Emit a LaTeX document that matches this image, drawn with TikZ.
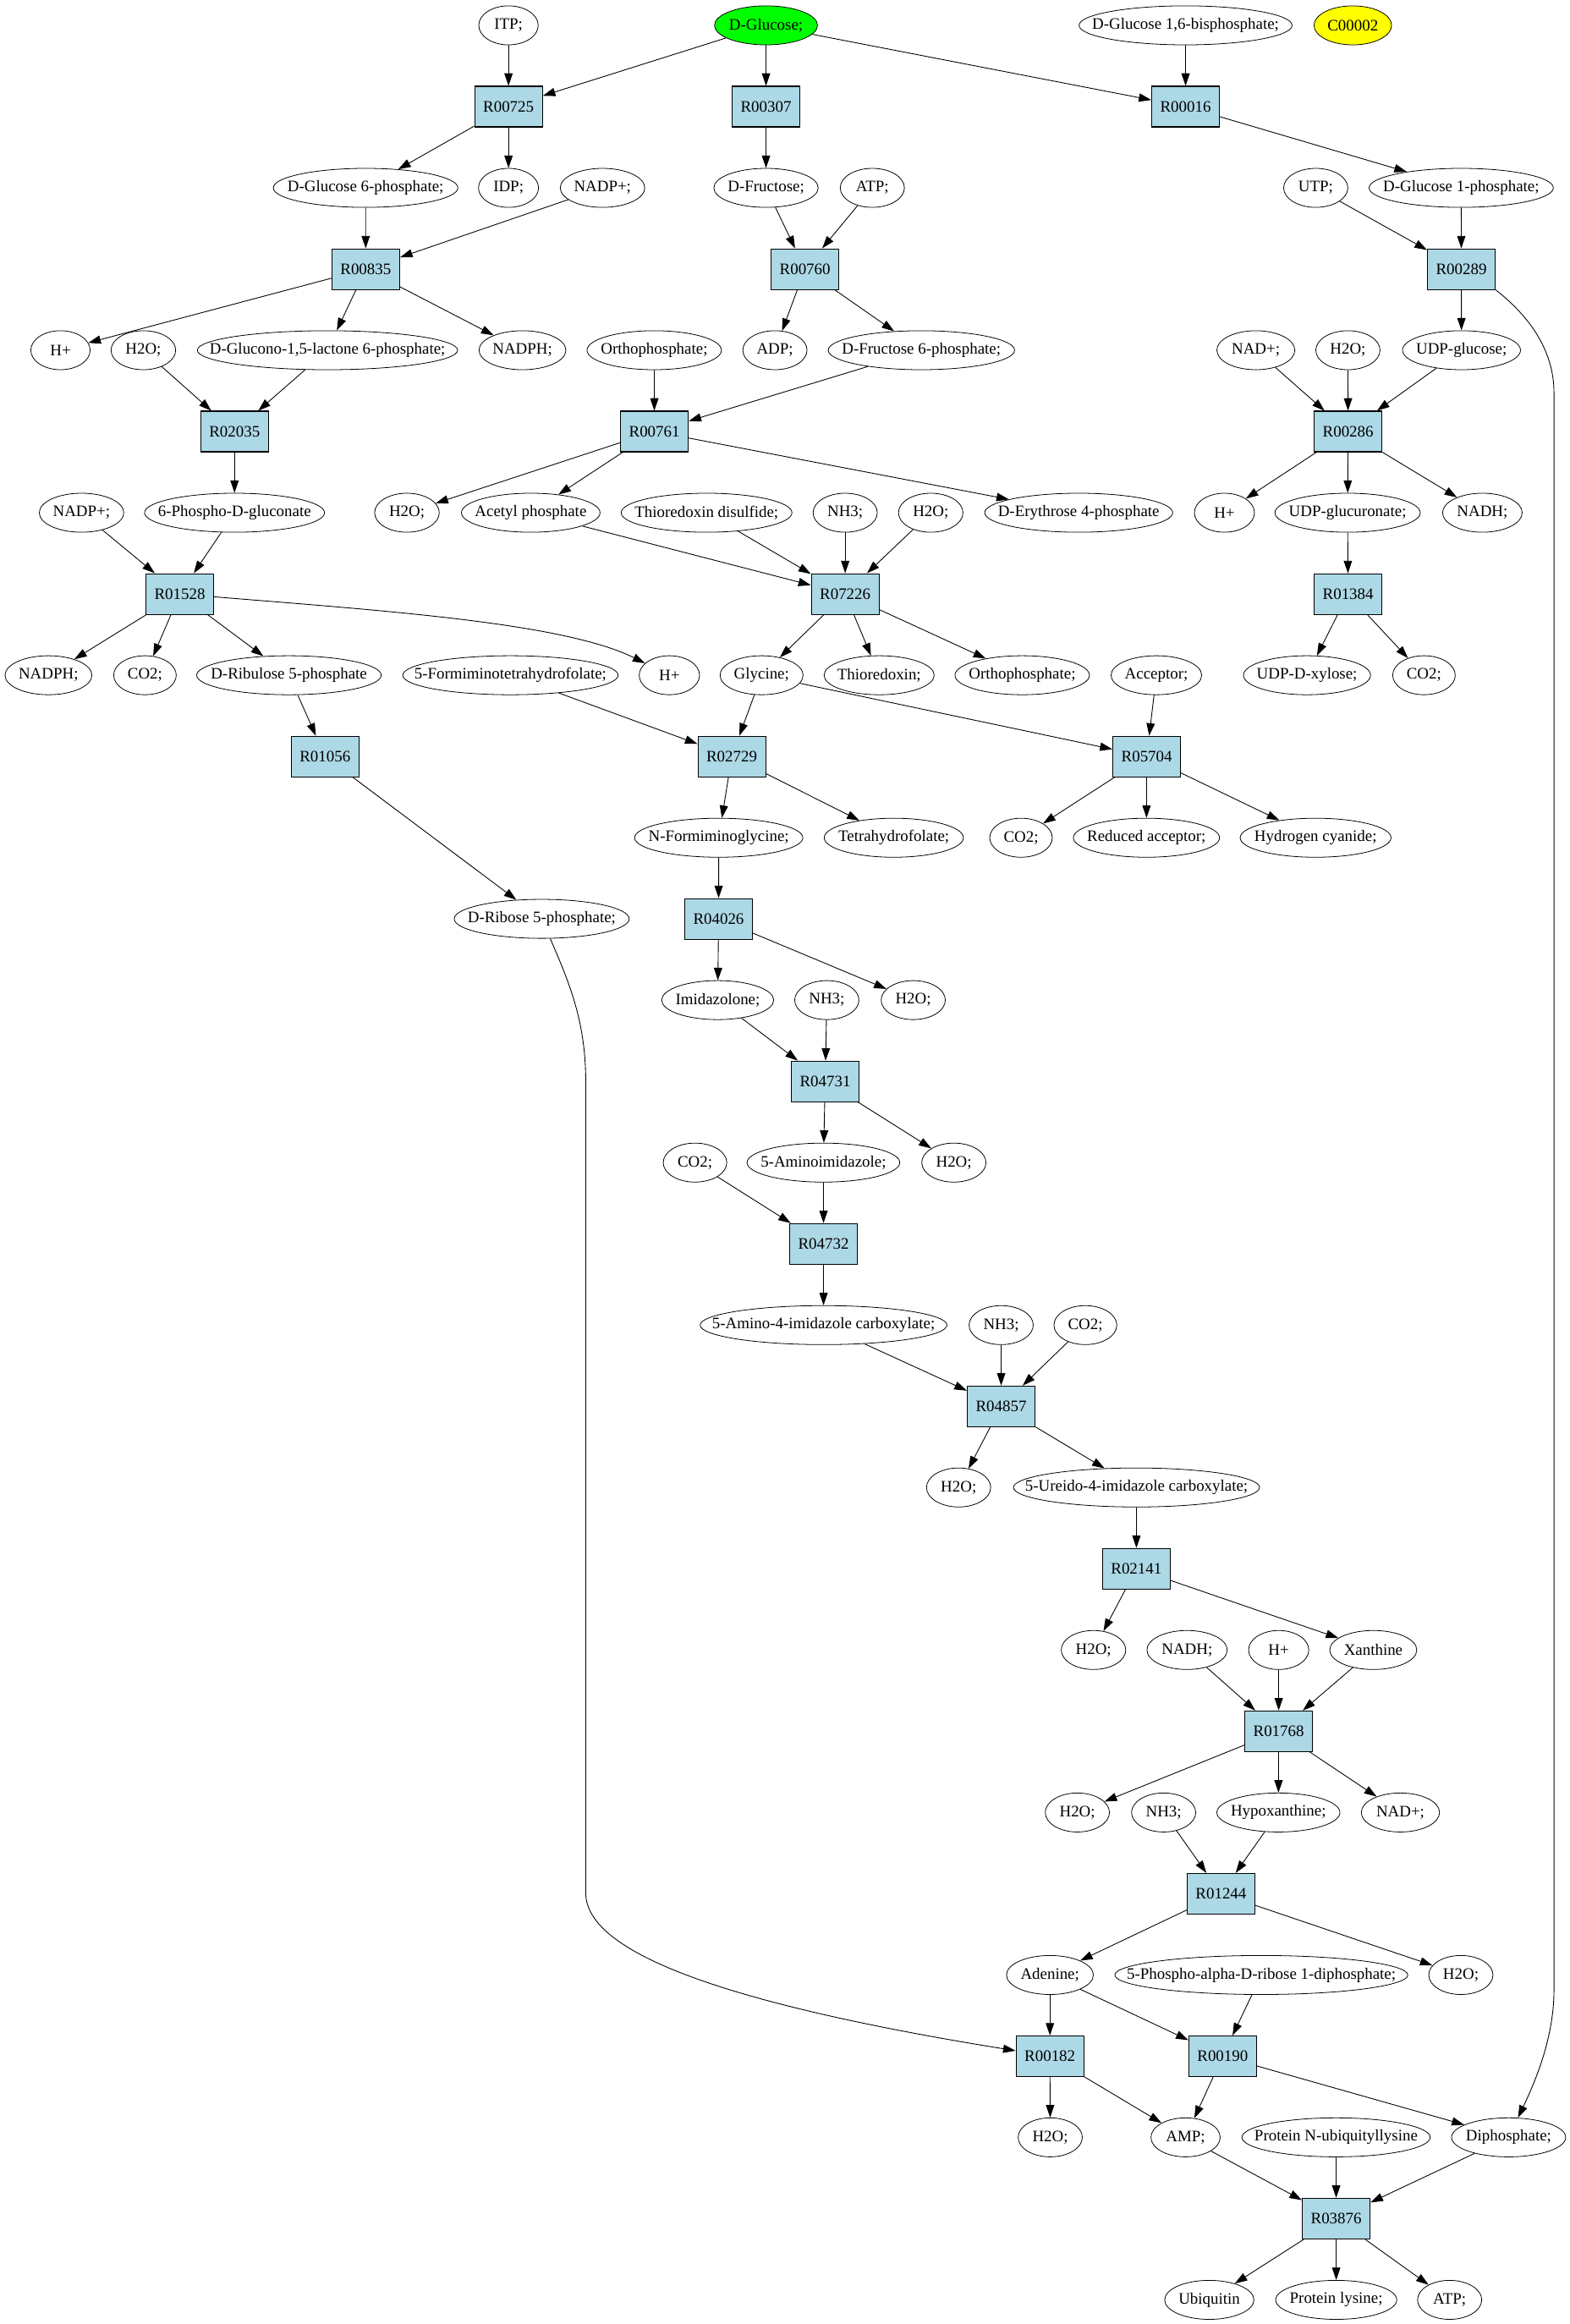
\documentclass[tikz,border=0pt]{standalone}
\usepackage{fontspec}
\setmainfont{Liberation Serif}
\usetikzlibrary{shapes.geometric,arrows.meta}
\definecolor{lightblue}{RGB}{173,216,230}
\definecolor{glucgreen}{RGB}{0,255,0}
\definecolor{cyellow}{RGB}{255,255,0}
\newcommand\zw[1]{\makebox[0pt]{#1}}
\begin{document}
\begin{tikzpicture}[x=1pt,y=-1pt,font=\fontsize{10.8}{12}\selectfont,
  met/.style={ellipse,draw,line width=0.45pt,inner sep=0pt,minimum height=26.3pt},
  rxn/.style={rectangle,draw,fill=lightblue,line width=0.6pt,inner sep=0pt,minimum width=45.7pt,minimum height=27.4pt},
  conn/.style={-{Triangle[length=8.4pt,width=5.6pt]},line width=0.5pt}]
\useasboundingbox (0,0) rectangle (1059,1567.4);
% reactions
\node[rxn] (r00725) at (343,71.9) {R00725};
\node[rxn] (r00307) at (516.7,71.9) {R00307};
\node[rxn] (r00016) at (799.7,71.9) {R00016};
\node[rxn] (r00835) at (246.7,181.5) {R00835};
\node[rxn] (r00760) at (543,181.5) {R00760};
\node[rxn] (r00289) at (985.7,181.5) {R00289};
\node[rxn] (r02035) at (158.2,291) {R02035};
\node[rxn] (r00761) at (441.4,291) {R00761};
\node[rxn] (r00286) at (909.3,291) {R00286};
\node[rxn] (r01528) at (121.3,400.6) {R01528};
\node[rxn] (r07226) at (570.1,400.6) {R07226};
\node[rxn] (r01384) at (909.3,400.6) {R01384};
\node[rxn] (r01056) at (219.3,510.2) {R01056};
\node[rxn] (r02729) at (493.6,510.2) {R02729};
\node[rxn] (r05704) at (773.5,510.2) {R05704};
\node[rxn] (r04026) at (484.7,619.7) {R04026};
\node[rxn] (r04731) at (556.6,729.3) {R04731};
\node[rxn] (r04732) at (555.5,838.9) {R04732};
\node[rxn] (r04857) at (675.3,948.5) {R04857};
\node[rxn] (r02141) at (766.5,1058) {R02141};
\node[rxn] (r01768) at (862.5,1167.6) {R01768};
\node[rxn] (r01244) at (823.6,1277.2) {R01244};
\node[rxn] (r00182) at (708.2,1386.8) {R00182};
\node[rxn] (r00190) at (824.7,1386.8) {R00190};
\node[rxn] (r03876) at (901.3,1496.3) {R03876};
% row 0
\node[met,minimum width=40.1pt] (itp) at (343,17.1) {\zw{ITP;}};
\node[met,minimum width=69.5pt,fill=glucgreen] (glc) at (516.7,17.1) {\zw{D-Glucose;}};
\node[met,minimum width=143.7pt] (g16bp) at (799.7,17.1) {\zw{D-Glucose 1,6-bisphosphate;}};
\node[met,minimum width=52.3pt,fill=cyellow] (c2) at (912.5,17.1) {\zw{C00002}};
% row 2
\node[met,minimum width=124.5pt] (g6p) at (246.6,126.7) {\zw{D-Glucose 6-phosphate;}};
\node[met,minimum width=40.5pt] (idp) at (343,126.7) {\zw{IDP;}};
\node[met,minimum width=57pt] (nadp1) at (406.4,126.7) {\zw{NADP+;}};
\node[met,minimum width=70.4pt] (fru) at (516.7,126.7) {\zw{D-Fructose;}};
\node[met,minimum width=43.3pt] (atp1) at (588.4,126.7) {\zw{ATP;}};
\node[met,minimum width=43.3pt] (utp) at (887.5,126.7) {\zw{UTP;}};
\node[met,minimum width=124.3pt] (g1p) at (985.6,126.7) {\zw{D-Glucose 1-phosphate;}};
% row 4
\node[met,minimum width=40pt] (hp1) at (40.8,236.2) {\zw{H+}};
\node[met,minimum width=43.6pt] (h2o1) at (96.7,236.2) {\zw{H2O;}};
\node[met,minimum width=175.6pt] (gl15) at (220.9,236.2) {\zw{D-Glucono-1,5-lactone 6-phosphate;}};
\node[met,minimum width=58.6pt] (nadph1) at (352.4,236.2) {\zw{NADPH;}};
\node[met,minimum width=90.7pt] (orth1) at (441.3,236.2) {\zw{Orthophosphate;}};
\node[met,minimum width=43.3pt] (adp) at (522.7,236.2) {\zw{ADP;}};
\node[met,minimum width=125.7pt] (f6p) at (621.5,236.2) {\zw{D-Fructose 6-phosphate;}};
\node[met,minimum width=52.6pt] (nadplus1) at (847.1,236.2) {\zw{NAD+;}};
\node[met,minimum width=43.3pt] (h2o2) at (909.2,236.2) {\zw{H2O;}};
\node[met,minimum width=79.6pt] (udpg) at (985.8,236.2) {\zw{UDP-glucose;}};
% row 6
\node[met,minimum width=57pt] (nadp2) at (55,345.8) {\zw{NADP+;}};
\node[met,minimum width=121.4pt] (pg6) at (158.2,345.8) {\zw{6-Phospho-D-gluconate}};
\node[met,minimum width=43.6pt] (h2o3) at (274.5,345.8) {\zw{H2O;}};
\node[met,minimum width=93.5pt] (acp) at (358,345.8) {\zw{Acetyl phosphate}};
\node[met,minimum width=115.2pt] (tdis) at (476.6,345.8) {\zw{Thioredoxin disulfide;}};
\node[met,minimum width=43.3pt] (nh31) at (570.1,345.8) {\zw{NH3;}};
\node[met,minimum width=43.5pt] (h2o4) at (627.8,345.8) {\zw{H2O;}};
\node[met,minimum width=126.8pt] (e4p) at (727.6,345.8) {\zw{D-Erythrose 4-phosphate}};
\node[met,minimum width=40.5pt] (hp2) at (825.9,345.8) {\zw{H+}};
\node[met,minimum width=98pt] (udpgu) at (909,345.8) {\zw{UDP-glucuronate;}};
\node[met,minimum width=53.7pt] (nadh1) at (999.9,345.8) {\zw{NADH;}};
% row 8
\node[met,minimum width=58.6pt] (nadph2) at (32.7,455.4) {\zw{NADPH;}};
\node[met,minimum width=42.2pt] (co21) at (97.8,455.4) {\zw{CO2;}};
\node[met,minimum width=124.5pt] (ru5p) at (194.9,455.4) {\zw{D-Ribulose 5-phosphate}};
\node[met,minimum width=145.3pt] (fthf) at (344.3,455.4) {\zw{5-Formiminotetrahydrofolate;}};
\node[met,minimum width=40.7pt] (hp3) at (451.5,455.4) {\zw{H+}};
\node[met,minimum width=56pt] (gly) at (513.7,455.4) {\zw{Glycine;}};
\node[met,minimum width=74.3pt] (trx) at (593,455.4) {\zw{Thioredoxin;}};
\node[met,minimum width=90.7pt] (orth2) at (689.5,455.4) {\zw{Orthophosphate;}};
\node[met,minimum width=61.1pt] (accp) at (780,455.4) {\zw{Acceptor;}};
\node[met,minimum width=85.7pt] (udpx) at (881.6,455.4) {\zw{UDP-D-xylose;}};
\node[met,minimum width=42.2pt] (co22) at (960.5,455.4) {\zw{CO2;}};
% row 10
\node[met,minimum width=113.5pt] (nfg) at (484.8,565) {\zw{N-Formiminoglycine;}};
\node[met,minimum width=93.9pt] (thf) at (602.9,565) {\zw{Tetrahydrofolate;}};
\node[met,minimum width=42.2pt] (co23) at (688.7,565) {\zw{CO2;}};
\node[met,minimum width=98.6pt] (redacc) at (773.3,565) {\zw{Reduced acceptor;}};
\node[met,minimum width=101.8pt] (hcn) at (887.4,565) {\zw{Hydrogen cyanide;}};
% row 11
\node[met,minimum width=118pt] (r5p) at (365.4,619.7) {\zw{D-Ribose 5-phosphate;}};
% row 12
\node[met,minimum width=75.6pt] (imid) at (484.1,674.5) {\zw{Imidazolone;}};
\node[met,minimum width=43.3pt] (nh32) at (557.7,674.5) {\zw{NH3;}};
\node[met,minimum width=43.3pt] (h2o5) at (616,674.5) {\zw{H2O;}};
% row 14
\node[met,minimum width=42.9pt] (co24) at (468.8,784.1) {\zw{CO2;}};
\node[met,minimum width=103pt] (aim) at (555.4,784.1) {\zw{5-Aminoimidazole;}};
\node[met,minimum width=43.3pt] (h2o6) at (643.4,784.1) {\zw{H2O;}};
% row 16
\node[met,minimum width=166.5pt] (aica) at (555.5,893.7) {\zw{5-Amino-4-imidazole carboxylate;}};
\node[met,minimum width=43.3pt] (nh33) at (675.3,893.7) {\zw{NH3;}};
\node[met,minimum width=42.4pt] (co25) at (732.1,893.7) {\zw{CO2;}};
% row 18
\node[met,minimum width=43.3pt] (h2o7) at (646.6,1003.2) {\zw{H2O;}};
\node[met,minimum width=166pt] (uica) at (766.6,1003.2) {\zw{5-Ureido-4-imidazole carboxylate;}};
% row 20
\node[met,minimum width=43.5pt] (h2o8) at (737.6,1112.8) {\zw{H2O;}};
\node[met,minimum width=54.1pt] (nadh2) at (800.7,1112.8) {\zw{NADH;}};
\node[met,minimum width=40.6pt] (hp4) at (862.5,1112.8) {\zw{H+}};
\node[met,minimum width=58.7pt] (xan) at (926.3,1112.8) {\zw{Xanthine}};
% row 22
\node[met,minimum width=43.3pt] (h2o9) at (726.7,1222.4) {\zw{H2O;}};
\node[met,minimum width=43.3pt] (nh34) at (784.9,1222.4) {\zw{NH3;}};
\node[met,minimum width=83pt] (hypx) at (862.3,1222.4) {\zw{Hypoxanthine;}};
\node[met,minimum width=52.8pt] (nadplus2) at (944.6,1222.4) {\zw{NAD+;}};
% row 24
\node[met,minimum width=58.6pt] (ade) at (708.2,1332) {\zw{Adenine;}};
\node[met,minimum width=197.6pt] (prpp) at (850.8,1332) {\zw{5-Phospho-alpha-D-ribose 1-diphosphate;}};
\node[met,minimum width=43.3pt] (h2o10) at (985.4,1332) {\zw{H2O;}};
% row 26
\node[met,minimum width=43.3pt] (h2o11) at (708.4,1441.5) {\zw{H2O;}};
\node[met,minimum width=46.7pt] (amp) at (799.7,1441.5) {\zw{AMP;}};
\node[met,minimum width=127pt] (pnu) at (901.2,1441.5) {\zw{Protein N-ubiquityllysine}};
\node[met,minimum width=77pt] (pp) at (1017.6,1441.5) {\zw{Diphosphate;}};
% row 28
\node[met,minimum width=60.2pt] (ubq) at (815.7,1551.1) {\zw{Ubiquitin}};
\node[met,minimum width=81.7pt] (plys) at (901.3,1551.1) {\zw{Protein lysine;}};
\node[met,minimum width=43.3pt] (atp2) at (977.8,1551.1) {\zw{ATP;}};
% edges
\draw[conn] (itp) -- (r00725);
\draw[conn] (glc) -- (r00725);
\draw[conn] (glc) -- (r00307);
\draw[conn] (glc) -- (r00016);
\draw[conn] (g16bp) -- (r00016);
\draw[conn] (r00725) -- (g6p);
\draw[conn] (r00725) -- (idp);
\draw[conn] (r00307) -- (fru);
\draw[conn] (r00016) -- (g1p);
\draw[conn] (g6p) -- (r00835);
\draw[conn] (nadp1) -- (r00835);
\draw[conn] (fru) -- (r00760);
\draw[conn] (atp1) -- (r00760);
\draw[conn] (utp) -- (r00289);
\draw[conn] (g1p) -- (r00289);
\draw[conn] (r00835) -- (hp1);
\draw[conn] (r00835) -- (gl15);
\draw[conn] (r00835) -- (nadph1);
\draw[conn] (r00760) -- (adp);
\draw[conn] (r00760) -- (f6p);
\draw[conn] (r00289) -- (udpg);
\draw[conn] (r00289.south east) .. controls (1030,212) and (1048.2,235) .. (1048.2,265) -- (1048.2,1342) .. controls (1048.2,1375) and (1035,1405) .. (pp);
\draw[conn] (h2o1) -- (r02035);
\draw[conn] (gl15) -- (r02035);
\draw[conn] (orth1) -- (r00761);
\draw[conn] (f6p) -- (r00761);
\draw[conn] (nadplus1) -- (r00286);
\draw[conn] (h2o2) -- (r00286);
\draw[conn] (udpg) -- (r00286);
\draw[conn] (r02035) -- (pg6);
\draw[conn] (r00761) -- (h2o3);
\draw[conn] (r00761) -- (acp);
\draw[conn] (r00761) -- (e4p);
\draw[conn] (r00286) -- (hp2);
\draw[conn] (r00286) -- (udpgu);
\draw[conn] (r00286) -- (nadh1);
\draw[conn] (nadp2) -- (r01528);
\draw[conn] (pg6) -- (r01528);
\draw[conn] (acp) -- (r07226);
\draw[conn] (tdis) -- (r07226);
\draw[conn] (nh31) -- (r07226);
\draw[conn] (h2o4) -- (r07226);
\draw[conn] (udpgu) -- (r01384);
\draw[conn] (r01528) -- (nadph2);
\draw[conn] (r01528) -- (co21);
\draw[conn] (r01528) -- (ru5p);
\draw[conn] (r01528) .. controls (260,412) and (380,420) .. (hp3);
\draw[conn] (r07226) -- (gly);
\draw[conn] (r07226) -- (trx);
\draw[conn] (r07226) -- (orth2);
\draw[conn] (r01384) -- (udpx);
\draw[conn] (r01384) -- (co22);
\draw[conn] (ru5p) -- (r01056);
\draw[conn] (fthf) -- (r02729);
\draw[conn] (gly) -- (r02729);
\draw[conn] (gly) -- (r05704);
\draw[conn] (accp) -- (r05704);
\draw[conn] (r01056) -- (r5p);
\draw[conn] (r02729) -- (nfg);
\draw[conn] (r02729) -- (thf);
\draw[conn] (r05704) -- (co23);
\draw[conn] (r05704) -- (redacc);
\draw[conn] (r05704) -- (hcn);
\draw[conn] (nfg) -- (r04026);
\draw[conn] (r5p) .. controls (385,665) and (395.1,690) .. (395.1,730) -- (395.1,1276.7) .. controls (395.1,1315) and (480,1350) .. (r00182);
\draw[conn] (r04026) -- (imid);
\draw[conn] (r04026) -- (h2o5);
\draw[conn] (imid) -- (r04731);
\draw[conn] (nh32) -- (r04731);
\draw[conn] (r04731) -- (aim);
\draw[conn] (r04731) -- (h2o6);
\draw[conn] (co24) -- (r04732);
\draw[conn] (aim) -- (r04732);
\draw[conn] (r04732) -- (aica);
\draw[conn] (aica) -- (r04857);
\draw[conn] (nh33) -- (r04857);
\draw[conn] (co25) -- (r04857);
\draw[conn] (r04857) -- (h2o7);
\draw[conn] (r04857) -- (uica);
\draw[conn] (uica) -- (r02141);
\draw[conn] (r02141) -- (h2o8);
\draw[conn] (r02141) -- (xan);
\draw[conn] (nadh2) -- (r01768);
\draw[conn] (hp4) -- (r01768);
\draw[conn] (xan) -- (r01768);
\draw[conn] (r01768) -- (h2o9);
\draw[conn] (r01768) -- (hypx);
\draw[conn] (r01768) -- (nadplus2);
\draw[conn] (nh34) -- (r01244);
\draw[conn] (hypx) -- (r01244);
\draw[conn] (r01244) -- (ade);
\draw[conn] (r01244) -- (h2o10);
\draw[conn] (ade) -- (r00182);
\draw[conn] (ade) -- (r00190);
\draw[conn] (prpp) -- (r00190);
\draw[conn] (r00182) -- (h2o11);
\draw[conn] (r00182) -- (amp);
\draw[conn] (r00190) -- (amp);
\draw[conn] (r00190) -- (pp);
\draw[conn] (amp) -- (r03876);
\draw[conn] (pnu) -- (r03876);
\draw[conn] (pp) -- (r03876);
\draw[conn] (r03876) -- (ubq);
\draw[conn] (r03876) -- (plys);
\draw[conn] (r03876) -- (atp2);
\end{tikzpicture}
\end{document}
